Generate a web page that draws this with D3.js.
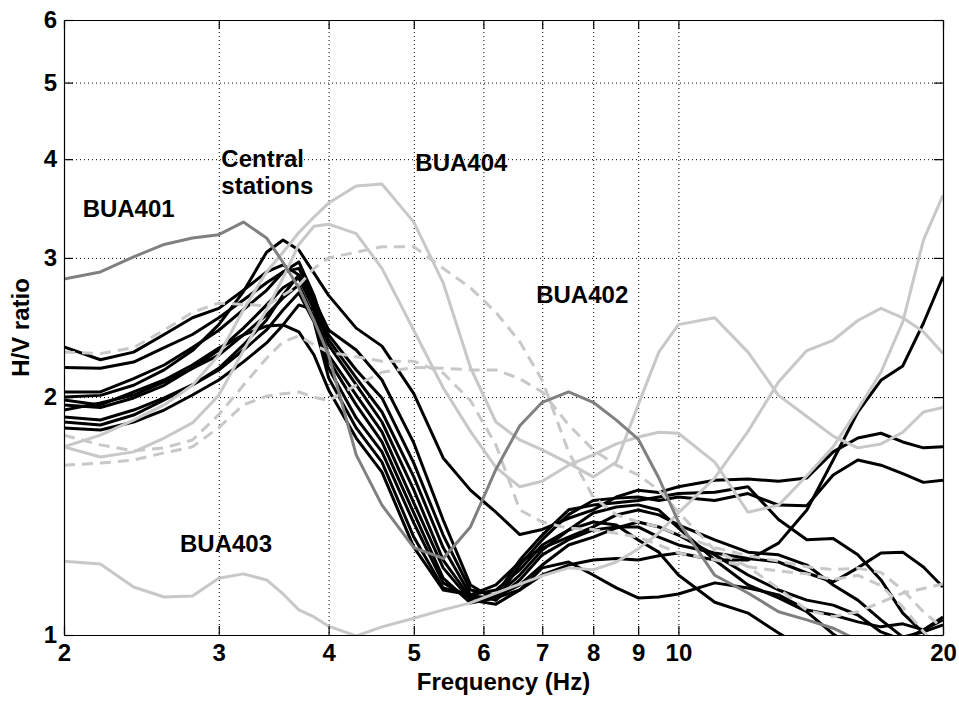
<!DOCTYPE html>
<html>
<head>
<meta charset="utf-8">
<script src="https://cdn.jsdelivr.net/npm/d3@7"></script>
<style>
  body { margin: 0; background: #fff; }
  svg text { font-family: "Liberation Sans", Arial, sans-serif; font-weight: bold; }
</style>
</head>
<body>
<svg id="hv-plot" width="959" height="702"></svg>
<script>
// --- Data -----------------------------------------------
// Frequency nodes (Hz), shared by every curve
const freqs = [2, 2.2, 2.4, 2.6, 2.8, 3, 3.2, 3.4, 3.55, 3.7, 3.85, 4, 4.3, 4.6, 5, 5.4, 5.8, 6.2,
  6.6, 7, 7.5, 8, 8.5, 9, 9.5, 10, 11, 12, 13, 14, 15, 16, 17, 18, 19, 20];

// Central stations (black)
const central1 = [2.0, 2.01, 2.07, 2.165, 2.29, 2.47, 2.72, 3.05, 3.16, 3.07, 2.87, 2.69, 2.445, 2.32, 2.02, 1.675, 1.525, 1.43, 1.34, 1.36, 1.405, 1.44, 1.495, 1.525, 1.515, 1.54, 1.57, 1.575, 1.565, 1.58, 1.705, 1.775, 1.80, 1.755, 1.725, 1.73];
const central2 = [2.315, 2.23, 2.28, 2.40, 2.52, 2.59, 2.73, 2.88, 2.94, 2.855, 2.654, 2.432, 2.294, 2.102, 1.75, 1.398, 1.157, 1.107, 1.226, 1.32, 1.42, 1.48, 1.49, 1.495, 1.48, 1.495, 1.48, 1.51, 1.46, 1.457, 1.594, 1.665, 1.64, 1.60, 1.56, 1.57];
const central3 = [2.18, 2.175, 2.215, 2.31, 2.40, 2.52, 2.654, 2.79, 2.88, 2.91, 2.67, 2.397, 2.164, 1.995, 1.65, 1.338, 1.14, 1.124, 1.244, 1.338, 1.44, 1.46, 1.47, 1.48, 1.495, 1.51, 1.516, 1.54, 1.40, 1.32, 1.325, 1.263, 1.174, 1.066, 1.006, 0.957];
const central4 = [2.03, 2.03, 2.11, 2.196, 2.31, 2.43, 2.58, 2.73, 2.88, 2.965, 2.69, 2.362, 2.115, 1.915, 1.585, 1.29, 1.124, 1.107, 1.174, 1.263, 1.32, 1.358, 1.37, 1.37, 1.33, 1.30, 1.27, 1.25, 1.237, 1.198, 1.167, 1.216, 1.27, 1.273, 1.219, 1.15];
const central5 = [1.955, 1.94, 1.995, 2.07, 2.175, 2.294, 2.445, 2.616, 2.75, 2.83, 2.578, 2.229, 1.955, 1.755, 1.427, 1.18, 1.098, 1.114, 1.14, 1.191, 1.226, 1.244, 1.25, 1.244, 1.26, 1.27, 1.244, 1.244, 1.307, 1.439, 1.665, 1.915, 2.10, 2.19, 2.48, 2.84];
const central6 = [1.926, 1.966, 2.012, 2.09, 2.175, 2.26, 2.397, 2.541, 2.67, 2.773, 2.52, 2.175, 1.882, 1.705, 1.386, 1.164, 1.114, 1.12, 1.191, 1.281, 1.358, 1.427, 1.452, 1.461, 1.439, 1.366, 1.244, 1.157, 1.114, 1.07, 1.003, 0.957, 0.916, 0.89, 0.876, 0.864];
const central7 = [1.887, 1.871, 1.926, 1.995, 2.072, 2.164, 2.294, 2.432, 2.578, 2.71, 2.49, 2.115, 1.828, 1.655, 1.33, 1.147, 1.124, 1.14, 1.209, 1.30, 1.358, 1.39, 1.378, 1.319, 1.273, 1.191, 1.10, 1.066, 1.006, 0.957, 0.93, 0.905, 0.89, 0.876, 0.864, 0.852];
const central8 = [1.828, 1.817, 1.86, 1.926, 2.012, 2.102, 2.216, 2.342, 2.468, 2.616, 2.578, 2.261, 2.012, 1.807, 1.47, 1.216, 1.107, 1.094, 1.14, 1.216, 1.237, 1.191, 1.147, 1.114, 1.117, 1.127, 1.164, 1.147, 1.124, 1.076, 1.06, 1.039, 1.024, 1.033, 1.015, 1.054];
const central9 = [1.983, 1.955, 2.03, 2.102, 2.196, 2.307, 2.397, 2.46, 2.468, 2.418, 2.261, 2.042, 1.775, 1.607, 1.292, 1.14, 1.124, 1.157, 1.237, 1.288, 1.33, 1.37, 1.419, 1.439, 1.419, 1.378, 1.319, 1.273, 1.263, 1.226, 1.157, 1.107, 1.045, 0.994, 1.009, 1.03];
const central10 = [1.86, 1.844, 1.898, 1.983, 2.072, 2.175, 2.328, 2.504, 2.693, 2.855, 2.616, 2.328, 2.072, 1.86, 1.526, 1.244, 1.114, 1.117, 1.157, 1.226, 1.30, 1.33, 1.366, 1.39, 1.37, 1.338, 1.263, 1.191, 1.14, 1.107, 1.091, 1.06, 1.009, 0.986, 1.015, 1.045];

// Other stations (light grey, dashed)
const dashed1 = [2.28, 2.27, 2.31, 2.43, 2.56, 2.63, 2.62, 2.61, 2.69, 2.77, 2.91, 3.00, 3.05, 3.10, 3.10, 2.91, 2.75, 2.56, 2.35, 2.10, 1.705, 1.495, 1.42, 1.39, 1.37, 1.34, 1.29, 1.26, 1.24, 1.22, 1.21, 1.215, 1.20, 1.14, 1.07, 1.02];
const dashed2 = [1.79, 1.74, 1.71, 1.725, 1.765, 1.90, 2.07, 2.24, 2.35, 2.39, 2.33, 2.28, 2.25, 2.22, 2.22, 2.145, 1.98, 1.74, 1.44, 1.39, 1.365, 1.36, 1.345, 1.33, 1.30, 1.27, 1.245, 1.22, 1.205, 1.195, 1.175, 1.19, 1.155, 1.085, 1.01, 0.957];
const dashed3 = [1.64, 1.65, 1.665, 1.70, 1.73, 1.83, 1.955, 2.005, 2.02, 2.03, 2.00, 1.98, 2.07, 2.15, 2.18, 2.175, 2.165, 2.165, 2.11, 2.03, 1.845, 1.715, 1.64, 1.595, 1.525, 1.43, 1.28, 1.22, 1.145, 1.075, 1.055, 1.07, 1.10, 1.13, 1.145, 1.16];

// Named stations
const bua401 = [2.82, 2.88, 3.01, 3.12, 3.18, 3.21, 3.33, 3.18, 2.96, 2.75, 2.50, 2.26, 1.69, 1.46, 1.29, 1.25, 1.37, 1.62, 1.84, 1.97, 2.03, 1.97, 1.87, 1.77, 1.58, 1.39, 1.19, 1.13, 1.07, 1.045, 1.02, 0.985, 0.96, 0.95, 0.94, 0.935];
const bua402 = [1.73, 1.68, 1.705, 1.775, 1.855, 2.01, 2.29, 2.58, 2.83, 3.12, 3.29, 3.31, 3.22, 2.91, 2.43, 2.055, 1.81, 1.63, 1.54, 1.565, 1.64, 1.69, 1.745, 1.78, 1.805, 1.80, 1.655, 1.43, 1.46, 1.59, 1.73, 1.93, 2.15, 2.49, 3.16, 3.60];
const bua403 = [1.24, 1.23, 1.15, 1.117, 1.12, 1.18, 1.195, 1.174, 1.127, 1.076, 1.054, 1.026, 0.997, 1.024, 1.05, 1.076, 1.098, 1.13, 1.16, 1.188, 1.216, 1.209, 1.237, 1.285, 1.346, 1.427, 1.58, 1.81, 2.09, 2.29, 2.36, 2.50, 2.59, 2.52, 2.42, 2.27];
const bua404 = [1.73, 1.79, 1.87, 1.955, 2.07, 2.26, 2.58, 2.88, 3.05, 3.23, 3.38, 3.52, 3.70, 3.72, 3.33, 2.79, 2.18, 1.86, 1.765, 1.715, 1.65, 1.585, 1.655, 1.955, 2.28, 2.47, 2.52, 2.28, 2.01, 1.89, 1.785, 1.725, 1.745, 1.805, 1.915, 1.94];

// Axis ticks
const xTicks = [2, 3, 4, 5, 6, 7, 8, 9, 10, 20];
const yTicks = [1, 2, 3, 4, 5, 6];
const xGrid = [3, 4, 5, 6, 7, 8, 9, 10];
const yGrid = [2, 3, 4, 5];

// Text labels placed in the plot (frequency / ratio of the baseline start)
const annotations = [
  {text: ["BUA401"], f: 2.10, v: 3.38},
  {text: ["Central", "stations"], f: 3.02, v: 3.91},
  {text: ["BUA404"], f: 5.02, v: 3.865},
  {text: ["BUA402"], f: 6.89, v: 2.63},
  {text: ["BUA403"], f: 2.71, v: 1.274}
];

// --- Plot ---------------------------------------------
var margin = {top: 20, right: 16, bottom: 67, left: 64};
const svg = d3.select('#hv-plot');
const W = +svg.attr('width'), H = +svg.attr('height');

const x = d3.scaleLog().domain([2, 20]).range([margin.left, W - margin.right]);
const y = d3.scaleLog().domain([1, 6]).range([H - margin.bottom, margin.top]);

const fontSize = 24;

// clip everything to the axes box
svg.append('clipPath').attr('id', 'box')
  .append('rect')
  .attr('x', x(2)).attr('y', y(6))
  .attr('width', x(20) - x(2)).attr('height', y(1) - y(6));

// dotted grid
const grid = svg.append('g')
  .attr('stroke', '#000')
  .attr('stroke-width', 1)
  .attr('stroke-dasharray', '1,3');
grid.selectAll('line.vx').data(xGrid).enter().append('line')
  .attr('x1', d => x(d) + 0.5).attr('x2', d => x(d) + 0.5)
  .attr('y1', y(6)).attr('y2', y(1));
grid.selectAll('line.hy').data(yGrid).enter().append('line')
  .attr('x1', x(2)).attr('x2', x(20))
  .attr('y1', d => y(d) + 0.5).attr('y2', d => y(d) + 0.5);

const line = d3.line()
  .x((d, i) => x(freqs[i]))
  .y(d => y(d));

const curves = svg.append('g').attr('clip-path', 'url(#box)')
  .attr('fill', 'none')
  .attr('stroke-width', 3)
  .attr('stroke-linejoin', 'round');

// black ones first, grey ones on top
const central = [central1, central2, central3, central4, central5, central6, central7, central8, central9, central10];
curves.selectAll('path.central').data(central).enter().append('path')
  .attr('d', line).attr('stroke', '#000');

curves.selectAll('path.dashed').data([dashed1, dashed2, dashed3]).enter().append('path')
  .attr('d', line).attr('stroke', '#c8c8c8')
  .attr('stroke-dasharray', '11,7');

curves.selectAll('path.light').data([bua402, bua403, bua404]).enter().append('path')
  .attr('d', line).attr('stroke', '#c8c8c8');

curves.append('path').datum(bua401)
  .attr('d', line).attr('stroke', '#808080');

// --- Axes (ticks point inward, MATLAB style) ---
function styleAxis(g) {
  g.attr('font-size', fontSize)
    .attr('font-family', '"Liberation Sans", Arial, sans-serif')
    .attr('font-weight', 'bold');
  g.selectAll('.domain').attr('stroke', '#000').attr('stroke-width', 1.2);
  g.selectAll('.tick line').attr('stroke', '#000').attr('stroke-width', 1.2);
  g.selectAll('.tick text').attr('fill', '#000');
}

svg.append('g')
  .attr('transform', 'translate(0,' + y(1) + ')')
  .call(d3.axisBottom(x).tickValues(xTicks).tickFormat(d3.format('d'))
    .tickSizeInner(-9).tickSizeOuter(0).tickPadding(9))
  .call(styleAxis);

svg.append('g')
  .attr('transform', 'translate(0,' + y(6) + ')')
  .call(d3.axisTop(x).tickValues(xTicks).tickFormat('')
    .tickSizeInner(-9).tickSizeOuter(0))
  .call(styleAxis);

svg.append('g')
  .attr('transform', 'translate(' + x(2) + ',0)')
  .call(d3.axisLeft(y).tickValues(yTicks).tickFormat(d3.format('d'))
    .tickSizeInner(-9).tickSizeOuter(0).tickPadding(7))
  .call(styleAxis);

svg.append('g')
  .attr('transform', 'translate(' + x(20) + ',0)')
  .call(d3.axisRight(y).tickValues(yTicks).tickFormat('')
    .tickSizeInner(-9).tickSizeOuter(0))
  .call(styleAxis);

// axis titles
svg.append('text')
  .attr('x', (x(2) + x(20)) / 2)
  .attr('y', 690)
  .attr('text-anchor', 'middle')
  .attr('font-size', fontSize)
  .text('Frequency (Hz)');

svg.append('text')
  .attr('transform', 'translate(29,' + (y(1) + y(6)) / 2 + ') rotate(-90)')
  .attr('text-anchor', 'middle')
  .attr('font-size', fontSize)
  .text('H/V ratio');

// station labels
const labels = svg.append('g').attr('font-size', fontSize);
annotations.forEach(a => {
  const t = labels.append('text')
    .attr('x', x(a.f))
    .attr('y', y(a.v));
  a.text.forEach((s, i) => {
    t.append('tspan')
      .attr('x', x(a.f))
      .attr('dy', i === 0 ? 0 : 27)
      .text(s);
  });
});
</script>
</body>
</html>
